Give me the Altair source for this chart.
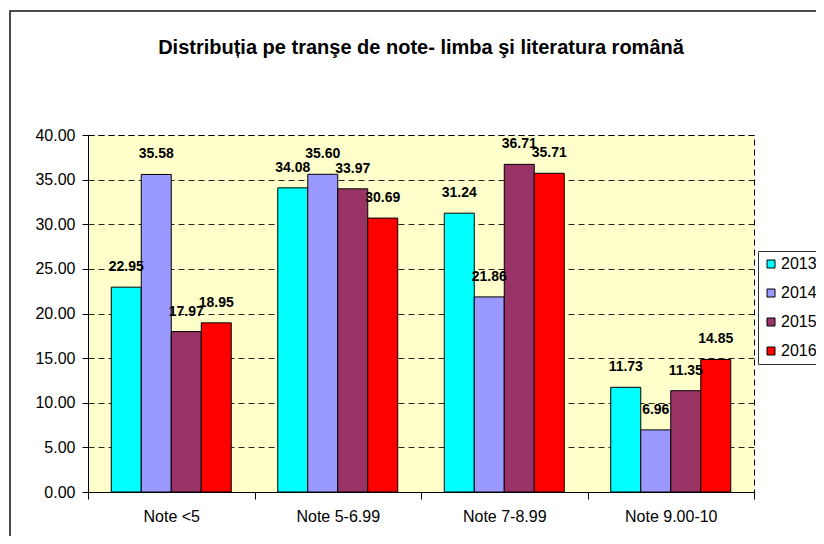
import altair as alt
import pandas as pd

TITLE = "Distribuția pe tranşe de note- limba şi literatura română"
categories = ["Note <5", "Note 5-6.99", "Note 7-8.99", "Note 9.00-10"]
years = ["2013", "2014", "2015", "2016"]
v2013 = [22.95, 34.08, 31.24, 11.73]
v2014 = [35.58, 35.60, 21.86, 6.96]
v2015 = [17.97, 33.97, 36.71, 11.35]
v2016 = [18.95, 30.69, 35.71, 14.85]
colors = ["#00FFFF", "#9999FF", "#993366", "#FF0000"]
y_ticks = [0, 5, 10, 15, 20, 25, 30, 35, 40]

rows = []
for yr, vals in zip(years, [v2013, v2014, v2015, v2016]):
    for c, v in zip(categories, vals):
        rows.append({"cat": c, "year": yr, "value": v})
df = pd.DataFrame(rows)

FONT = "Liberation Sans"

x = alt.X(
    "cat:N", sort=categories,
    scale=alt.Scale(paddingInner=0, paddingOuter=0),
    axis=alt.Axis(title=None, labelAngle=0, tickBand="extent", tickSize=7,
                  labelPadding=9, labelFontSize=16, labelFont=FONT,
                  labelColor="black", domainColor="black", tickColor="black",
                  grid=False),
)
xo = alt.XOffset("year:N", sort=years,
                 scale=alt.Scale(paddingInner=0, paddingOuter=0.775))
y = alt.Y(
    "value:Q",
    scale=alt.Scale(domain=[0, 40], nice=False, zero=True),
    axis=alt.Axis(title=None, values=y_ticks, format=".2f", tickSize=6,
                  labelPadding=7, labelFontSize=16, labelFont=FONT,
                  labelColor="black", domainColor="black", tickColor="black",
                  grid=True, gridColor="black", gridDash=[6, 4], gridOpacity=0.85),
)
color = alt.Color(
    "year:N", sort=years,
    scale=alt.Scale(domain=years, range=colors),
    legend=alt.Legend(title=None, orient="none", legendX=670, legendY=116,
                      direction="vertical", strokeColor="#333", fillColor="white",
                      padding=5, cornerRadius=0, symbolType="square",
                      symbolSize=64, symbolStrokeColor="black",
                      symbolStrokeWidth=1, labelFontSize=16, labelFont=FONT,
                      labelColor="black", rowPadding=13, labelOffset=2),
)

base = alt.Chart(df)
bars = base.mark_bar(stroke="black", strokeWidth=1).encode(
    x=x, xOffset=xo, y=y, color=color)
labels = base.mark_text(dy=-20, baseline="middle", fontWeight="bold",
                        fontSize=14, font=FONT, color="black").encode(
    x=x, xOffset=xo, y=y, text=alt.Text("value:Q", format=".2f"))

title = alt.Chart(pd.DataFrame({"t": [TITLE]})).mark_text(
    fontSize=20, fontWeight="bold", font=FONT, color="black",
    align="center", baseline="alphabetic").encode(
    x=alt.value(333), y=alt.value(-81), text="t:N")

frame = alt.Chart(pd.DataFrame({"f": [0]})).mark_rect(
    fill="transparent", stroke="#111", strokeWidth=1.5).encode(
    x=alt.value(-78), x2=alt.value(760), y=alt.value(-124), y2=alt.value(420))

chart = alt.layer(bars, labels, title, frame).properties(
    width=666, height=357,
    autosize=alt.AutoSizeParams(type="none"),
    padding={"left": 80, "top": 127, "right": 62, "bottom": 44},
    background="white",
).configure_view(
    fill="#FFFFCC", stroke="black", strokeDash=[6, 4], strokeWidth=1
)

chart.save("out.html", embed_options={"renderer": "svg", "actions": False})
